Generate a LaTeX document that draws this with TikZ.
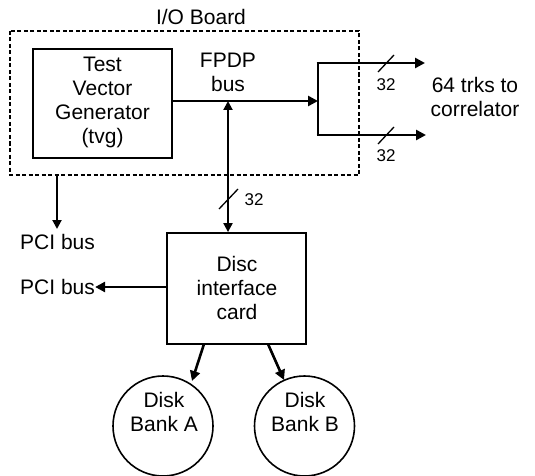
\documentclass[tikz,border=0pt]{standalone}
\usepackage{fontspec}
\setmainfont{Liberation Sans}
\usetikzlibrary{arrows.meta}
\begin{document}
\begin{tikzpicture}[x=1pt,y=-1pt,
  lbl/.style={font=\fontsize{21}{24}\selectfont, align=center, inner sep=0pt},
  small/.style={font=\fontsize{17}{19}\selectfont, inner sep=0pt},
  box/.style={draw, line width=1.8pt, inner sep=0pt},
  arr/.style={line width=2.6pt, -{Triangle[length=10pt,width=10pt]}},
  thinarr/.style={line width=2pt, -{Triangle[length=9pt,width=9pt]}},
  slash/.style={line width=1.3pt}]
\useasboundingbox (0,0) rectangle (535,476);
% I/O board
\draw[line width=1.6pt, dash pattern=on 4pt off 2.5pt] (10,31) rectangle (359,175);
\node[lbl] (io) at (201,17) {I/O Board};
% TVG
\node[box, minimum width=139pt, minimum height=109pt] (tvg) at (102.5,103.5) {};
\node[lbl] (tvgt) at (102.5,102) {Test\\Vector\\Generator\\(tvg)};
\node[lbl] (fpdp) at (228,72) {FPDP\\bus};
\coordinate (split) at (318,101);
\coordinate (splitT) at (318,63);
\coordinate (splitB) at (318,135);
\coordinate (outT) at (425,63);
\coordinate (outB) at (426,135);
\coordinate (bus) at (228,101);
\draw[arr] (tvg.east |- split) -- (split);
\draw[line width=2.6pt] (splitT) -- (splitB);
\draw[arr] ([xshift=-1.3pt]splitT) -- (outT);
\draw[arr] ([xshift=-1.3pt]splitB) -- (outB);
\draw[slash] (378,72) -- (394,55);
\draw[slash] (378,144) -- (394,127);
\node[small] (n32a) at (386,85) {32};
\node[small] (n32b) at (386,156) {32};
\node[lbl] (trks) at (475,97) {64 trks to\\correlator};
% Disc interface card
\node[box, minimum width=139pt, minimum height=111pt] (disc) at (236.5,288.5) {};
\node[lbl] (disct) at (237,288) {Disc\\interface\\card};
\draw[thinarr, {Triangle[length=9pt,width=9pt]}-{Triangle[length=9pt,width=9pt]}] (bus) -- (bus |- disc.north);
\draw[slash] (219,209) -- (238,189);
\node[small] (n32c) at (254,200) {32};
% PCI buses
\node[lbl, anchor=west] (pci1) at (20,242) {PCI bus};
\node[lbl, anchor=west] (pci2) at (20,287) {PCI bus};
\draw[thinarr] (57,175) -- (57,229);
\draw[arr] (disc.west |- pci2) -- (pci2.east);
% Disk banks
\node[draw, circle, line width=1.6pt, minimum size=100pt, inner sep=0pt] (da) at (163,426) {};
\node[lbl] (dat) at (164,412) {Disk\\Bank A};
\node[draw, circle, line width=1.6pt, minimum size=100pt, inner sep=0pt] (db) at (304.5,426) {};
\node[lbl] (dbt) at (305,412) {Disk\\Bank B};
\draw[arr] (204,344) -- (192,381);
\draw[arr] (268,344) -- (284,380);
\end{tikzpicture}
\end{document}
